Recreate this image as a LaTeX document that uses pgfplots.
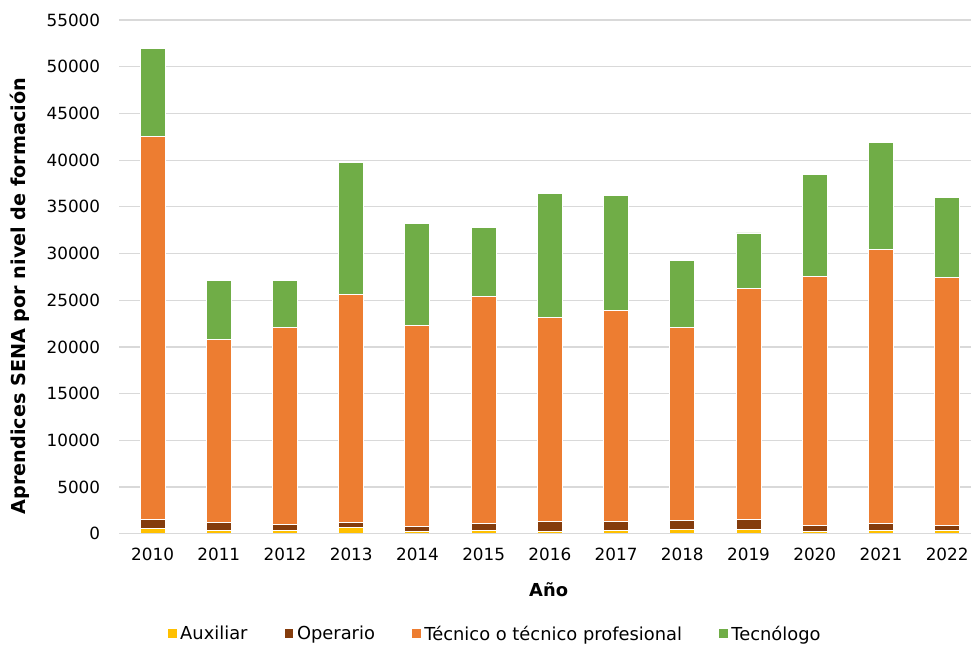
\documentclass[border=0pt]{standalone}
\usepackage{pgfplots}
\pgfplotsset{compat=1.18}
\usepackage{fontspec}
\setmainfont{DejaVu Sans}
\definecolor{aux}{HTML}{FFC000}
\definecolor{ope}{HTML}{843C0C}
\definecolor{tec}{HTML}{ED7D31}
\definecolor{tgo}{HTML}{70AD47}
\definecolor{gridc}{HTML}{D9D9D9}
\begin{document}
\begin{tikzpicture}[x=1pt,y=1pt]
\useasboundingbox (-89.6pt,-85.7pt) rectangle (638.6pt,400.3pt);
\begin{axis}[
  at={(0,0)}, anchor=south west,
  scale only axis,
  width=638.6pt, height=385.3pt,
  ybar stacked,
  bar width=18.75pt,
  xmin=-0.5, xmax=12.36,
  ymin=0, ymax=55000,
  ytick={0,5000,...,55000},
  xtick={0,...,12},
  xticklabels={2010,2011,2012,2013,2014,2015,2016,2017,2018,2019,2020,2021,2022},
  scaled y ticks=false,
  /pgf/number format/1000 sep={},
  /pgf/number format/assume math mode=true,
  ymajorgrids,
  grid style={gridc, line width=0.9pt},
  major tick length=0pt,
  axis line style={draw=none},
  ticklabel style={font=\fontsize{12.6pt}{14pt}\selectfont},
  yticklabel style={xshift=-11pt},
  xticklabel style={yshift=-7pt},
  xlabel={\textbf{Año}},
  ylabel={\textbf{Aprendices SENA por nivel de formación}},
  xlabel style={font=\fontsize{13.4pt}{15pt}\selectfont, at={(axis description cs:0.504,-0.1096)}, anchor=center},
  ylabel style={font=\fontsize{14.4pt}{16pt}\selectfont, at={(axis description cs:-0.1169,0.4627)}, anchor=center, rotate=0},
  legend style={draw=none, at={(axis description cs:0.441,-0.195)}, anchor=center,
    legend columns=-1, font=\fontsize{13.4pt}{15pt}\selectfont,
    /tikz/every even column/.append style={column sep=25pt}},
  legend image code/.code={\fill[#1] (0pt,-3.6pt) rectangle (7.4pt,3.8pt);},
  every axis plot/.append style={draw=white, line width=0.7pt},
]
\addplot[fill=aux] coordinates {(0,600) (1,400) (2,400) (3,700) (4,250) (5,400) (6,200) (7,300) (8,500) (9,500) (10,200) (11,300) (12,300)};
\addplot[fill=ope] coordinates {(0,900) (1,850) (2,600) (3,500) (4,500) (5,700) (6,1100) (7,1000) (8,900) (9,1000) (10,700) (11,800) (12,600)};
\addplot[fill=tec] coordinates {(0,41000) (1,19550) (2,21100) (3,24400) (4,21550) (5,24300) (6,21900) (7,22600) (8,20700) (9,24800) (10,26600) (11,29300) (12,26500)};
\addplot[fill=tgo] coordinates {(0,9500) (1,6300) (2,5000) (3,14100) (4,10950) (5,7400) (6,13200) (7,12300) (8,7200) (9,5900) (10,11000) (11,11500) (12,8600)};
\legend{Auxiliar, Operario, Técnico o técnico profesional, Tecnólogo}
\end{axis}
\draw[gridc, line width=0.9pt] (0,0) -- (638.6pt,0);
\end{tikzpicture}
\end{document}
